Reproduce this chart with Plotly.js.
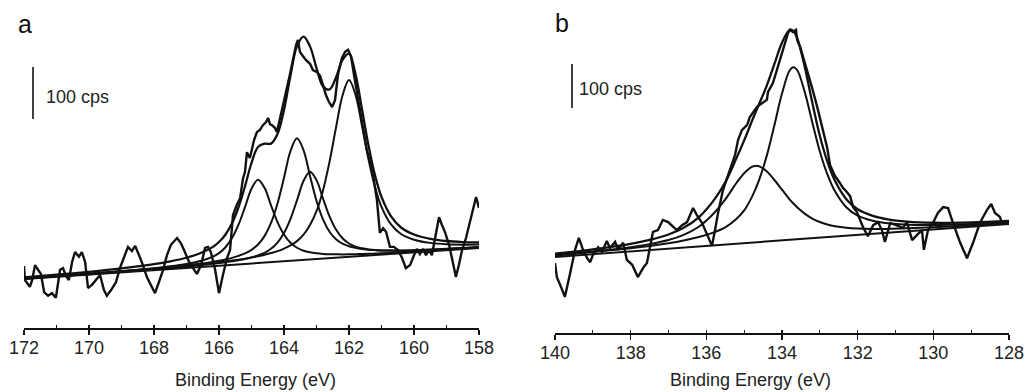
<!DOCTYPE html>
<html>
<head>
<meta charset="utf-8">
<script src="https://cdn.plot.ly/plotly-3.0.1.min.js"></script>
<style>html,body{margin:0;padding:0;background:#fff;}#chart{width:1026px;height:392px;}</style>
</head>
<body>
<div id="chart"></div>
<script>
// ---------- Panel a : S 2p region ----------
const aDataE = [172.00,171.97,171.91,171.82,171.75,171.66,171.57,171.48,171.38,171.26,
171.14,171.02,170.89,170.80,170.71,170.62,170.52,170.43,170.31,170.22,
170.12,170.03,169.91,169.78,169.66,169.54,169.45,169.32,169.17,169.05,
168.92,168.80,168.68,168.58,168.46,168.34,168.22,168.09,167.97,167.85,
167.72,167.60,167.48,167.29,167.17,167.05,166.92,166.80,166.68,166.55,
166.43,166.34,166.25,166.12,166.00,165.88,165.75,165.66,165.57,165.45,
165.35,165.26,165.20,165.14,165.05,164.92,164.83,164.74,164.65,164.55,
164.49,164.43,164.37,164.28,164.22,164.12,164.03,163.91,163.82,163.72,
163.63,163.57,163.51,163.42,163.32,163.20,163.11,162.98,162.89,162.80,
162.71,162.62,162.52,162.43,162.34,162.22,162.12,162.03,161.94,161.82,
161.69,161.57,161.45,161.35,161.26,161.14,161.05,160.95,160.86,160.74,
160.62,160.49,160.37,160.25,160.12,160.00,159.91,159.82,159.72,159.63,
159.54,159.45,159.35,159.23,159.14,159.05,158.92,158.80,158.71,158.62,
158.52,158.40,158.28,158.15,158.09,158.00];
const aDataCps = [119,92,87,79,92,121,112,104,69,62,
67,58,112,115,100,92,127,146,137,146,
127,77,83,92,102,73,62,73,88,115,
135,156,148,158,140,121,98,83,67,88,
112,140,160,173,163,146,127,115,104,121,
154,156,146,112,67,102,135,150,217,237,
250,288,300,338,327,362,377,381,390,396,
404,392,390,385,377,404,427,462,487,515,
544,554,531,523,515,508,496,492,485,467,
448,435,425,438,487,519,531,535,523,477,
429,390,342,319,294,246,183,192,185,156,
156,150,135,115,121,140,152,142,152,140,
150,140,173,213,198,185,160,121,98,121,
150,173,204,237,252,231];

const aFitE = [172,171,170,169,168,167.5,167,166.6,166.2,166.0,165.8,165.6,165.4,165.2,165.0,164.8,164.6,164.4,164.2,164.0,
163.8,163.6,163.4,163.2,163.0,162.8,162.6,162.4,162.2,162.0,161.8,161.6,161.4,161.2,161.0,160.7,160.4,160.0,159.5,159.0,158.5,158.0];
const aPeak1 = [95.0,99.5,104.1,109.2,115.0,118.6,123.2,128.4,136.8,144.0,155.3,172.9,198.6,232.6,267.8,284.9,269.5,236.0,203.7,179.7,
163.8,154.3,148.7,145.6,143.7,142.5,141.9,141.7,141.5,141.6,141.9,142.3,142.6,143.2,143.7,144.6,145.6,147.0,148.8,150.8,152.7,154.7];
const aPeak2 = [95.0,99.5,104.1,109.0,114.2,117.2,120.4,123.5,127.1,129.3,131.9,134.9,138.8,143.6,150.3,160.6,176.7,202.0,239.5,289.0,
340.4,365.0,342.1,292.4,244.6,208.8,185.2,170.8,162.2,157.2,154.1,151.9,150.6,149.8,149.2,148.9,149.1,149.7,150.8,152.4,153.9,155.6];
const aPeak3 = [94.7,99.2,103.6,108.2,113.0,115.6,118.3,120.7,123.4,124.8,126.5,128.4,130.4,132.8,135.8,139.6,144.6,152.3,164.1,182.5,
209.7,245.6,282.7,300.7,284.4,249.0,214.8,189.3,172.6,162.5,156.5,153.2,151.1,149.8,149.1,148.8,148.7,149.3,150.4,151.9,153.6,155.3];
const aPeak4 = [95.3,99.8,104.4,109.2,114.1,116.9,119.7,122.2,124.9,126.3,127.9,129.6,131.3,133.2,135.4,137.8,140.8,144.1,147.8,152.8,
159.0,167.1,179.4,198.0,224.6,264.6,319.5,385.3,447.0,476.8,448.7,388.7,324.6,271.4,233.1,198.7,180.7,169.8,163.7,161.0,160.2,160.4];
const aEnvelope = [97.4,102.5,108.1,114.6,122.7,128.1,135.1,143.2,155.5,165.3,179.8,201.3,232.2,272.6,317.3,348.2,354.5,354.6,372.9,419.1,
485.6,542.0,560.5,541.6,499.8,464.7,458.8,481.8,515.6,527.7,488.4,420.6,351.0,293.6,252.1,214.1,193.3,179.9,171.5,167.3,165.3,164.6];
const aBaseE = [172,158];
const aBaseCps = [94,154];
const aTickVals = [172,170,168,166,164,162,160,158];

// ---------- Panel b : P 2p region ----------
const bDataE = [140.00,139.95,139.81,139.74,139.60,139.47,139.37,139.26,139.15,139.07,
139.00,138.86,138.76,138.63,138.55,138.41,138.33,138.20,138.10,137.96,
137.81,137.67,137.57,137.49,137.41,137.28,137.15,137.01,136.91,136.78,
136.64,136.51,136.35,136.25,136.11,135.98,135.85,135.77,135.69,135.56,
135.37,135.24,135.16,135.06,134.92,134.85,134.66,134.50,134.40,134.37,
134.24,134.11,133.97,133.84,133.79,133.71,133.63,133.60,133.52,133.44,
133.34,133.21,133.07,132.94,132.81,132.73,132.60,132.47,132.39,132.28,
132.20,132.12,132.02,131.86,131.73,131.59,131.46,131.36,131.28,131.14,
130.96,130.80,130.70,130.56,130.43,130.30,130.25,130.14,130.01,129.88,
129.74,129.61,129.48,129.29,129.11,128.95,128.77,128.58,128.47,128.37,
128.24,128.18];
const bDataCps = [159,127,98,82,136,189,216,189,170,161,
177,195,184,209,193,207,189,205,166,155,
127,148,159,195,230,234,257,252,245,234,
245,252,284,268,250,223,198,234,273,325,
370,405,439,461,473,491,514,523,530,548,
568,605,643,682,689,684,689,666,650,627,
598,559,514,468,423,382,357,341,330,320,
311,286,275,241,220,245,252,234,207,250,
245,239,252,211,223,234,189,234,250,273,
286,284,250,205,170,205,250,280,293,273,
264,248];

const bFitE = [140,139,138,137.5,137,136.6,136.2,135.8,135.5,135.2,135.0,134.8,134.7,134.6,134.4,134.2,134.0,133.8,133.7,133.6,
133.4,133.2,133.0,132.8,132.6,132.3,132.0,131.6,131.2,130.7,130.0,129,128];
const bPeak1 = [176.3,184.1,192.8,197.9,204.1,210.3,218.1,228.8,240.0,259.5,278.5,308.3,327.3,349.2,403.7,472.8,544.2,596.5,604.1,597.7,
548.0,479.0,412.5,360.4,322.1,285.9,266.6,255.0,249.3,246.1,245.4,247.9,252.0];
const bPeak2 = [176.8,185.1,195.1,202.0,211.3,222.9,241.4,272.1,303.5,341.4,363.2,377.5,379.8,378.8,366.9,347.7,325.7,303.7,294.4,285.8,
271.4,260.1,252.2,246.6,242.7,239.1,237.3,236.5,236.6,237.8,240.4,245.0,250.3];
const bEnvelope = [180.4,190.2,202.7,211.6,223.9,239.2,263.0,301.9,342.7,398.2,437.7,480.6,501.3,521.5,562.9,611.5,659.7,688.7,686.4,670.8,
605.4,523.9,448.2,389.3,345.8,304.2,281.2,266.3,258.2,253.1,250.6,251.4,254.6];
const bBaseE = [140,128];
const bBaseCps = [173,248];
const bTickVals = [140,138,136,134,132,130,128];

const panelLabels = ['a','b'];
const axisTitle = 'Binding Energy (eV)';
const scaleLabel = '100 cps';
const scaleBarCps = 100;

// ---------- drawing ----------
const W = 1026, H = 392;
const fx = p => p / W;
const fy = p => 1 - p / H;
const FONT = 'Liberation Sans, Arial, Helvetica, sans-serif';
const INK = '#111';

function fit(x, y, xa, ya, w) {
  return {x: x, y: y, xaxis: xa, yaxis: ya, type: 'scatter', mode: 'lines',
          line: {color: INK, width: w || 2.0, shape: 'spline', smoothing: 1},
          hoverinfo: 'skip', showlegend: false};
}
function raw(x, y, xa, ya) {
  return {x: x, y: y, xaxis: xa, yaxis: ya, type: 'scatter', mode: 'lines',
          line: {color: INK, width: 2.4, shape: 'linear'}, hoverinfo: 'skip', showlegend: false};
}
function base(x, y, xa, ya) {
  return {x: x, y: y, xaxis: xa, yaxis: ya, type: 'scatter', mode: 'lines',
          line: {color: INK, width: 2.0}, hoverinfo: 'skip', showlegend: false};
}

const data = [
  base(aBaseE, aBaseCps, 'x3', 'y'),
  fit(aFitE, aPeak1, 'x', 'y'),
  fit(aFitE, aPeak2, 'x', 'y'),
  fit(aFitE, aPeak3, 'x', 'y'),
  fit(aFitE, aPeak4, 'x', 'y'),
  fit(aFitE, aEnvelope, 'x', 'y', 2.3),
  raw(aDataE, aDataCps, 'x', 'y'),
  base(bBaseE, bBaseCps, 'x4', 'y2'),
  fit(bFitE, bPeak1, 'x2', 'y2'),
  fit(bFitE, bPeak2, 'x2', 'y2'),
  fit(bFitE, bEnvelope, 'x2', 'y2', 2.3),
  raw(bDataE, bDataCps, 'x2', 'y2')
];

function mainX(domain, range, ticks, anchor) {
  return {domain: domain, range: range, anchor: anchor, tickmode: 'array', tickvals: ticks,
          ticktext: ticks.map(String), ticks: 'outside', ticklen: 5, tickwidth: 1.3, tickcolor: INK,
          showline: true, linewidth: 1.6, linecolor: INK, showgrid: false, zeroline: false,
          ticklabelstandoff: -2,
          tickfont: {family: FONT, size: 18, color: '#222'}, fixedrange: true};
}
function minorX(over, range, anchor) {
  return {overlaying: over, anchor: anchor, range: range, ticks: 'inside', ticklen: 3.5, tickwidth: 1.3,
          tickcolor: INK, dtick: 1, tick0: 0, showticklabels: false, showline: false, showgrid: false,
          zeroline: false, fixedrange: true};
}

const aAxisPy = 328, bAxisPy = 333;
const aPxPerCps = 0.52, bPxPerCps = 0.44;

const layout = {
  width: W, height: H,
  margin: {l: 0, r: 0, t: 0, b: 0},
  paper_bgcolor: '#fff', plot_bgcolor: 'rgba(0,0,0,0)',
  showlegend: false,
  xaxis: mainX([fx(24), fx(479)], [172, 158], aTickVals, 'y'),
  xaxis3: minorX('x', [172, 158], 'y'),
  yaxis: {domain: [fy(aAxisPy), 1], range: [0, aAxisPy / aPxPerCps], visible: false, fixedrange: true},
  xaxis2: mainX([fx(555), fx(1009)], [140, 128], bTickVals, 'y2'),
  xaxis4: minorX('x2', [140, 128], 'y2'),
  yaxis2: {domain: [fy(bAxisPy), 1], range: [0, bAxisPy / bPxPerCps], visible: false, fixedrange: true, anchor: 'x2'},
  shapes: [
    {type: 'line', xref: 'paper', yref: 'y', x0: fx(33), x1: fx(33),
     y0: (aAxisPy - 119) / aPxPerCps, y1: (aAxisPy - 119) / aPxPerCps + scaleBarCps,
     line: {color: INK, width: 1.6}},
    {type: 'line', xref: 'paper', yref: 'y2', x0: fx(572), x1: fx(572),
     y0: (bAxisPy - 108) / bPxPerCps, y1: (bAxisPy - 108) / bPxPerCps + scaleBarCps,
     line: {color: INK, width: 1.6}}
  ],
  annotations: [
    {text: panelLabels[0], xref: 'paper', yref: 'paper', x: fx(25), y: fy(24), xanchor: 'center', yanchor: 'middle',
     showarrow: false, font: {family: FONT, size: 25, color: '#111'}},
    {text: panelLabels[1], xref: 'paper', yref: 'paper', x: fx(562), y: fy(23), xanchor: 'center', yanchor: 'middle',
     showarrow: false, font: {family: FONT, size: 25, color: '#111'}},
    {text: scaleLabel, xref: 'paper', yref: 'paper', x: fx(44), y: fy(97), xanchor: 'left', yanchor: 'middle',
     showarrow: false, font: {family: FONT, size: 18, color: '#222'}},
    {text: scaleLabel, xref: 'paper', yref: 'paper', x: fx(577), y: fy(89), xanchor: 'left', yanchor: 'middle',
     showarrow: false, font: {family: FONT, size: 18, color: '#222'}},
    {text: axisTitle, xref: 'paper', yref: 'paper', x: fx(255.5), y: fy(380), xanchor: 'center', yanchor: 'middle',
     showarrow: false, font: {family: FONT, size: 18, color: '#222'}},
    {text: axisTitle, xref: 'paper', yref: 'paper', x: fx(750), y: fy(380), xanchor: 'center', yanchor: 'middle',
     showarrow: false, font: {family: FONT, size: 18, color: '#222'}}
  ]
};

Plotly.newPlot('chart', data, layout, {displayModeBar: false, staticPlot: true});
</script>
</body>
</html>
